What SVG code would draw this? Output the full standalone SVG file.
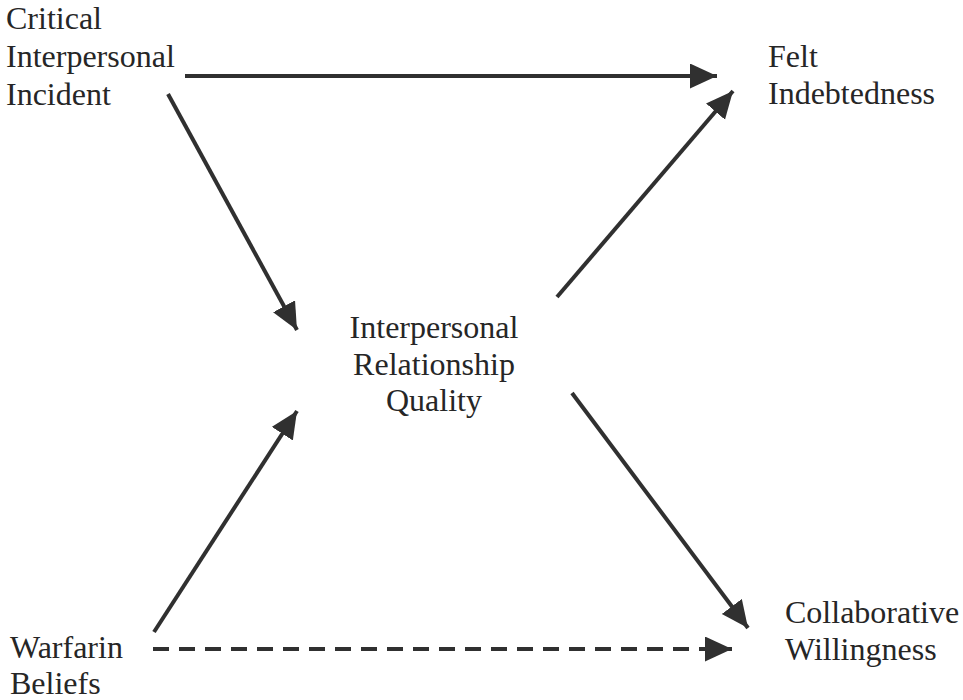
<svg xmlns="http://www.w3.org/2000/svg" width="963" height="700" viewBox="0 0 963 700">
<style>
text{font-family:'Liberation Serif',Tinos,'Times New Roman',Times,'DejaVu Serif',serif;font-size:32px;fill:#262626}
.c{text-anchor:middle}
.ln{stroke:#303030;stroke-width:4;fill:none}
.dash{stroke-dasharray:16 10}
</style>
<defs>
<marker id="ah" markerUnits="userSpaceOnUse" markerWidth="28" markerHeight="26" refX="27" refY="12.5" orient="auto">
<path d="M0,0 L27,12.5 L0,25 z" fill="#303030"/>
</marker>
</defs>
<rect width="963" height="700" fill="#ffffff"/>
<g id="connectors">
<line class="ln" x1="185" y1="76" x2="717" y2="76" marker-end="url(#ah)"/>
<line class="ln" x1="168" y1="94" x2="297" y2="330" marker-end="url(#ah)"/>
<line class="ln" x1="154" y1="632" x2="297" y2="411" marker-end="url(#ah)"/>
<line class="ln" x1="557" y1="297" x2="733" y2="91" marker-end="url(#ah)"/>
<line class="ln" x1="572" y1="393" x2="748" y2="628" marker-end="url(#ah)"/>
<line class="ln dash" x1="153" y1="649" x2="732" y2="649" marker-end="url(#ah)"/>
</g>
<g id="critical-incident">
<text x="6" y="29" font-family="Liberation Serif, serif">Critical</text>
<text x="6" y="67" font-family="Liberation Serif, serif">Interpersonal</text>
<text x="6" y="105" font-family="Liberation Serif, serif">Incident</text>
</g>
<g id="felt-indebtedness">
<text x="768" y="67" font-family="Liberation Serif, serif">Felt</text>
<text x="768" y="104" font-family="Liberation Serif, serif">Indebtedness</text>
</g>
<g id="relationship-quality">
<text class="c" x="434" y="338" font-family="Liberation Serif, serif">Interpersonal</text>
<text class="c" x="434" y="375" font-family="Liberation Serif, serif">Relationship</text>
<text class="c" x="434" y="411" font-family="Liberation Serif, serif">Quality</text>
</g>
<g id="warfarin-beliefs">
<text x="10" y="658" font-family="Liberation Serif, serif">Warfarin</text>
<text x="10" y="694" font-family="Liberation Serif, serif">Beliefs</text>
</g>
<g id="collaborative-willingness">
<text x="785" y="623" font-family="Liberation Serif, serif">Collaborative</text>
<text x="785" y="660" font-family="Liberation Serif, serif">Willingness</text>
</g>
</svg>
